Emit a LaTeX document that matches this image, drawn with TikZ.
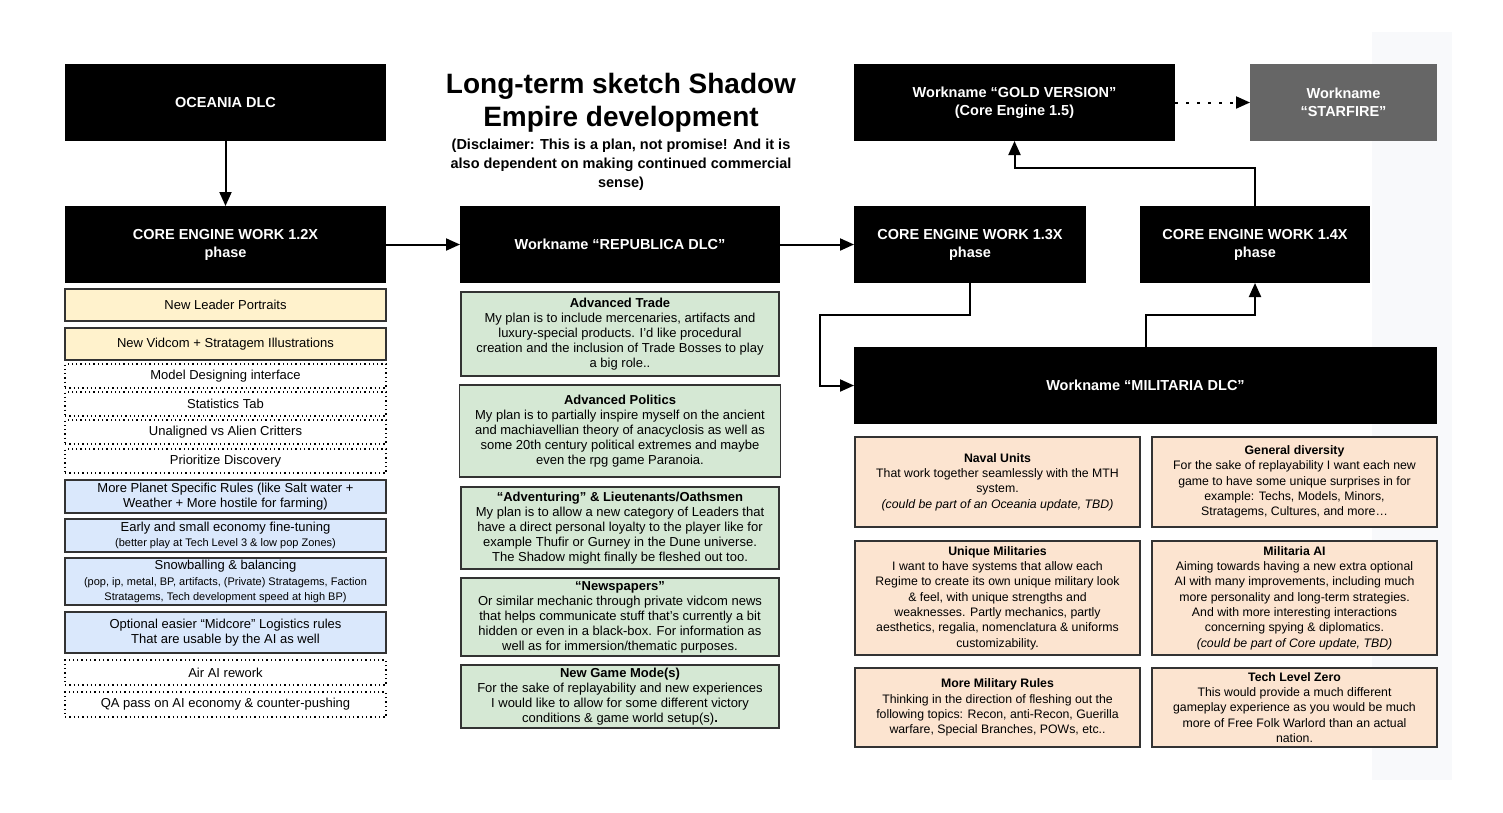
\documentclass[tikz,border=0pt]{standalone}
\usepackage{fontspec}
\setmainfont{Liberation Sans}
\usetikzlibrary{arrows.meta,positioning}
\definecolor{butter}{HTML}{FFF2CC}
\definecolor{sky}{HTML}{DAE8FC}
\definecolor{mint}{HTML}{D5E8D4}
\definecolor{peach}{HTML}{FCE4D0}
\definecolor{slate}{HTML}{666666}
\definecolor{edge}{HTML}{333333}
\definecolor{haze}{HTML}{F8F9FB}
\newcommand{\fineprint}{\fontsize{11}{14}\selectfont}

\begin{document}
\begin{tikzpicture}[
  x=1pt,y=-1pt,
  phase/.style={fill=black,text=white,inner sep=0pt,outer sep=0pt,minimum height=77pt,align=center,font=\fontsize{14.5}{18}\selectfont\bfseries},
  item/.style={draw=edge,line width=1.2pt,inner sep=0pt,outer sep=0pt,minimum width=321pt,align=center,font=\fontsize{13}{15.5}\selectfont},
  todo/.style={item,draw=black,dash pattern=on 1.3pt off 3pt},
  plan/.style={draw=edge,line width=1.2pt,fill=mint,inner sep=0pt,outer sep=0pt,minimum width=318pt,align=center,font=\fontsize{13}{15}\selectfont},
  idea/.style={draw=edge,line width=1.2pt,fill=peach,inner sep=0pt,outer sep=0pt,minimum width=285pt,align=center,font=\fontsize{12.3}{15.3}\selectfont},
  flow/.style={-{Triangle[length=14pt,width=12pt]},line width=2pt}
]
  \useasboundingbox (0,0) rectangle (1503,812);
  \fill[haze] (1372,32) rectangle (1452,780);

  % title
  \node[align=center,font=\fontsize{28}{33}\selectfont\bfseries] (title) at (621,103) {Long-term sketch Shadow\\Empire development};
  \node[align=center,font=\fontsize{14.5}{19}\selectfont\bfseries,below=-1pt of title] (disclaimer) {(Disclaimer: This is a plan, not promise! And it is\\also dependent on making continued commercial\\sense)};

  % left column
  \node[phase,minimum width=321pt] (oceania) at (225.5,102.5) {OCEANIA DLC};
  \node[phase,minimum width=321pt] (core12) at (225.5,244.5) {CORE ENGINE WORK 1.2X\\phase};
  \node[item,fill=butter,minimum height=32pt,below=6pt of core12] (portraits) {New Leader Portraits};
  \node[item,fill=butter,minimum height=32pt,below=7pt of portraits] (vidcom) {New Vidcom + Stratagem Illustrations};
  \node[todo,minimum height=24pt,below=4pt of vidcom] (designer) {Model Designing interface};
  \node[todo,minimum height=24pt,below=4pt of designer] (stats) {Statistics Tab};
  \node[todo,minimum height=24pt,below=4pt of stats] (critters) {Unaligned vs Alien Critters};
  \node[todo,minimum height=24pt,below=5pt of critters] (discovery) {Prioritize Discovery};
  \node[item,fill=sky,minimum height=33pt,below=7pt of discovery] (planet) {More Planet Specific Rules (like Salt water +\\Weather + More hostile for farming)};
  \node[item,fill=sky,minimum height=33pt,below=6pt of planet] (economy) {Early and small economy fine-tuning\\{\fineprint(better play at Tech Level 3 \& low pop Zones)}};
  \node[item,fill=sky,minimum height=47pt,below=6pt of economy] (snowball) {Snowballing \& balancing\\{\fineprint(pop, ip, metal, BP, artifacts, (Private) Stratagems, Faction}\\{\fineprint Stratagems, Tech development speed at high BP)}};
  \node[item,fill=sky,minimum height=41pt,below=7pt of snowball] (logistics) {Optional easier “Midcore” Logistics rules\\That are usable by the AI as well};
  \node[todo,minimum height=25pt,below=7pt of logistics] (airai) {Air AI rework};
  \node[todo,minimum height=25pt,below=7pt of airai] (qapass) {QA pass on AI economy \& counter-pushing};

  % middle column
  \node[phase,minimum width=320pt] (republica) at (620,244.5) {Workname “REPUBLICA DLC”};
  \node[plan,minimum height=84pt] (trade) at (620,334) {\textbf{Advanced Trade}\\My plan is to include mercenaries, artifacts and\\luxury-special products. I’d like procedural\\creation and the inclusion of Trade Bosses to play\\a big role..};
  \node[plan,minimum width=321pt,minimum height=92pt,below=9pt of trade] (politics) {\textbf{Advanced Politics}\\My plan is to partially inspire myself on the ancient\\and machiavellian theory of anacyclosis as well as\\some 20th century political extremes and maybe\\even the rpg game Paranoia.};
  \node[plan,minimum height=82pt,below=10pt of politics] (oathsmen) {\textbf{“Adventuring” \& Lieutenants/Oathsmen}\\My plan is to allow a new category of Leaders that\\have a direct personal loyalty to the player like for\\example Thufir or Gurney in the Dune universe.\\The Shadow might finally be fleshed out too.};
  \node[plan,minimum height=78pt,below=9pt of oathsmen] (newspapers) {\textbf{“Newspapers”}\\Or similar mechanic through private vidcom news\\that helps communicate stuff that’s currently a bit\\hidden or even in a black-box. For information as\\well as for immersion/thematic purposes.};
  \node[plan,minimum height=63pt,below=9pt of newspapers] (gamemode) {\textbf{New Game Mode(s)}\\For the sake of replayability and new experiences\\I would like to allow for some different victory\\conditions \& game world setup(s)\textbf{.}};

  % right side
  \node[phase,minimum width=321pt] (gold) at (1014.5,102.5) {Workname “GOLD VERSION”\\(Core Engine 1.5)};
  \node[phase,fill=slate,minimum width=187pt] (starfire) at (1343.5,102.5) {Workname\\“STARFIRE”};
  \node[phase,minimum width=232pt] (core13) at (970,244.5) {CORE ENGINE WORK 1.3X\\phase};
  \node[phase,minimum width=230pt] (core14) at (1255,244.5) {CORE ENGINE WORK 1.4X\\phase};
  \node[phase,minimum width=583pt] (militaria) at (1145.5,385.5) {Workname “MILITARIA DLC”};
  \node[idea,minimum height=90pt] (naval) at (997.5,482) {\textbf{Naval Units}\\That work together seamlessly with the MTH\\system.\\\textit{(could be part of an Oceania update, TBD)}};
  \node[idea,minimum height=90pt] (diversity) at (1294.5,482) {\textbf{General diversity}\\For the sake of replayability I want each new\\game to have some unique surprises in for\\example: Techs, Models, Minors,\\Stratagems, Cultures, and more…};
  \node[idea,minimum height=114pt,below=14pt of naval] (unique) {\textbf{Unique Militaries}\\I want to have systems that allow each\\Regime to create its own unique military look\\\& feel, with unique strengths and\\weaknesses. Partly mechanics, partly\\aesthetics, regalia, nomenclatura \& uniforms\\customizability.};
  \node[idea,minimum height=114pt,below=14pt of diversity] (milai) {\textbf{Militaria AI}\\Aiming towards having a new extra optional\\AI with many improvements, including much\\more personality and long-term strategies.\\And with more interesting interactions\\concerning spying \& diplomatics.\\\textit{(could be part of Core update, TBD)}};
  \node[idea,minimum height=79pt,below=13pt of unique] (rules) {\textbf{More Military Rules}\\Thinking in the direction of fleshing out the\\following topics: Recon, anti-Recon, Guerilla\\warfare, Special Branches, POWs, etc..};
  \node[idea,minimum height=79pt,below=13pt of milai] (techzero) {\textbf{Tech Level Zero}\\This would provide a much different\\gameplay experience as you would be much\\more of Free Folk Warlord than an actual\\nation.};

  % connectors
  \draw[flow] (oceania) -- (core12);
  \draw[flow] (core12) -- (republica);
  \draw[flow] (republica) -- (core13);
  \draw[flow] (core13.south) -- ++(0,32) -- ++(-150,0) |- (militaria.west);
  \draw[flow] (militaria.north) -- ++(0,-32) -| (core14.south);
  \draw[flow] (core14.north) -- ++(0,-38) -| (gold.south);
  \draw[flow,dash pattern=on 3pt off 8pt] (gold) -- (starfire);
\end{tikzpicture}
\end{document}
